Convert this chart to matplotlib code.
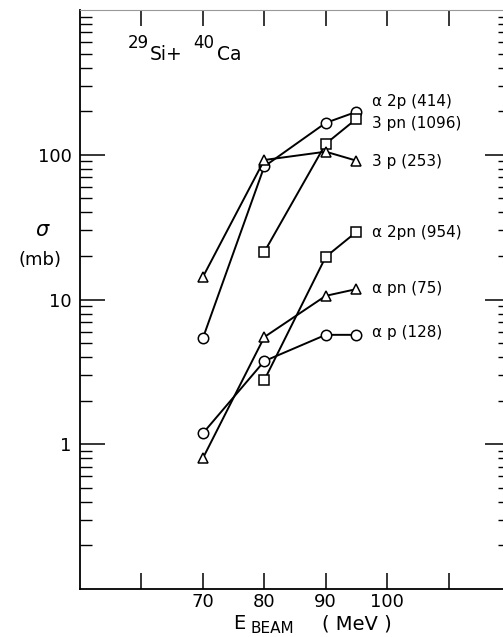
import numpy as np
import matplotlib
matplotlib.use("Agg")
import matplotlib.pyplot as plt
from matplotlib.ticker import FixedLocator, FixedFormatter, LogLocator, NullFormatter

# beam energies (MeV)
e_full = [70, 80, 90, 95]
e_late = [80, 90, 95]

# cross sections (mb)
a2p = [5.4, 83, 166, 198]
pn3 = [21.3, 119, 177]
p3 = [14.3, 92, 105, 91]
a2pn = [2.77, 19.7, 29.3]
apn = [0.80, 5.5, 10.6, 11.8]
ap = [1.19, 3.75, 5.7, 5.7]

labels = ["\u03b1 2p (414)", "3 pn (1096)", "3 p (253)",
          "\u03b1 2pn (954)", "\u03b1 pn (75)", "\u03b1 p (128)"]
label_y = [233, 164, 90, 29, 12, 5.96]

xticks = [60, 70, 80, 90, 100, 110]
xticklabels = ["", "70", "80", "90", "100", ""]
yticks = [1, 10, 100]
yticklabels = ["1", "10", "100"]

plt.rcParams["font.family"] = "DejaVu Sans"

W, H = 503, 637
fig = plt.figure(figsize=(W / 100, H / 100), dpi=100)
ax = fig.add_axes([80 / W, 48 / H, 430 / W, 579 / H])

series = [
    (e_full, a2p, "o"),
    (e_late, pn3, "s"),
    (e_full, p3, "^"),
    (e_late, a2pn, "s"),
    (e_full, apn, "^"),
    (e_full, ap, "o"),
]
for x, y, m in series:
    ax.plot(x, y, color="k", lw=1.4, marker=m, ms=7.5, mfc="white",
            mec="k", mew=1.1, clip_on=False)

for lab, ly in zip(labels, label_y):
    ax.text(97.6, ly, lab, fontsize=11, va="center", ha="left")

ax.set_yscale("log")
ax.set_xlim(50, 120)
ax.set_ylim(0.1, 1000)

ax.xaxis.set_major_locator(FixedLocator(xticks))
ax.xaxis.set_major_formatter(FixedFormatter(xticklabels))
ax.xaxis.set_minor_locator(FixedLocator([]))
ax.yaxis.set_major_locator(FixedLocator(yticks))
ax.yaxis.set_major_formatter(FixedFormatter(yticklabels))
ax.yaxis.set_minor_locator(LogLocator(base=10, subs=np.arange(2, 10)))
ax.yaxis.set_minor_formatter(NullFormatter())

ax.tick_params(axis="x", which="major", direction="in", length=11.5, width=1.1,
               top=True, labelsize=13, pad=3)
ax.tick_params(axis="y", which="major", direction="in", length=18, width=1.1,
               right=True, labelsize=13, pad=6)
ax.tick_params(axis="y", which="minor", direction="in", length=8.6, width=1.0,
               right=True)

for s in ["left", "bottom", "right"]:
    ax.spines[s].set_linewidth(1.3)
ax.spines["top"].set_linewidth(0.8)
ax.spines["top"].set_color("0.6")

# title pieces, pixel positions
def ptext(x, y, s, size):
    fig.text(x / W, 1 - y / H, s, fontsize=size, ha="left", va="baseline")

ptext(128, 48, "29", 12)
ptext(150, 60, "Si+", 13.5)
ptext(193, 48, "40", 12)
ptext(217, 60, "Ca", 13.5)

# y label
fig.text(42 / W, 1 - 230 / H, "\u03c3", fontsize=15, ha="center", va="center",
         style="italic")
fig.text(40 / W, 1 - 260 / H, "(mb)", fontsize=13, ha="center", va="center")

# x label
ptext(233, 629, "E", 14)
ptext(250, 633, "BEAM", 11)
ptext(322, 629, "( MeV )", 14)

fig.savefig("out.png", dpi=100)
